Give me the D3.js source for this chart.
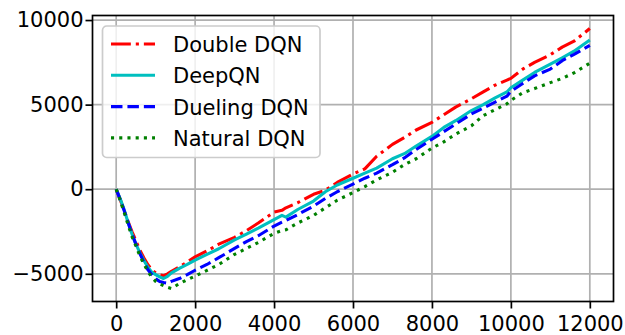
<!DOCTYPE html>
<html>
<head>
<meta charset="utf-8">
<script src="https://cdn.jsdelivr.net/npm/d3@7"></script>
<style>
  body { margin: 0; background: #fff; }
  svg { display: block; font-family: 'DejaVu Sans', sans-serif; }
</style>
</head>
<body>
<svg id="chart" width="625" height="335"></svg>
<script>
// Training steps shared by every run
const steps = [0, 100, 200, 300, 400, 500, 600, 700, 800, 900, 1000, 1100, 1200, 1300, 1400, 1600, 1800, 2000,
  2300, 2600, 3000, 3300, 3600, 4000, 4200, 4300, 4600, 5000, 5300, 5600, 6000, 6300, 6600, 7000, 7300, 7600,
  8000, 8300, 8600, 9000, 9300, 9600, 9900, 10000, 10300, 10600, 11000, 11300, 11600, 12000];

const doubleDQN = [0, -600, -1250, -1900, -2500, -3050, -3600, -4050, -4450, -4750, -4950, -5050, -5120, -5000, -4850, -4600, -4300, -4000,
  -3650, -3250, -2850, -2450, -2000, -1350, -1250, -1100, -800, -300, -60, 400, 900, 1200, 1950, 2650, 3050, 3500,
  3950, 4400, 4850, 5350, 5750, 6150, 6450, 6550, 7100, 7500, 7950, 8400, 8750, 9500];

const deepQN = [0, -550, -1200, -1950, -2650, -3250, -3750, -4200, -4600, -4900, -5050, -5180, -5280, -5150, -4950, -4680, -4450, -4190,
  -3850, -3520, -3000, -2650, -2300, -1800, -1550, -1650, -1200, -700, -150, 250, 650, 950, 1250, 1800, 2100, 2550,
  3120, 3650, 4050, 4650, 5000, 5400, 5750, 6000, 6450, 6900, 7400, 7770, 8160, 8820];

const duelingDQN = [0, -600, -1250, -1950, -2650, -3250, -3800, -4300, -4750, -5050, -5300, -5450, -5520, -5560, -5450, -5280, -5050, -4790,
  -4450, -4050, -3500, -3100, -2750, -2180, -1950, -1850, -1500, -1000, -550, -150, 300, 650, 950, 1450, 1850, 2350,
  2950, 3400, 3850, 4450, 4800, 5150, 5500, 5790, 6250, 6700, 7100, 7600, 7970, 8500];

const naturalDQN = [0, -650, -1350, -2100, -2800, -3350, -3950, -4400, -4850, -5200, -5450, -5600, -5700, -5800, -5870, -5580, -5350, -5140,
  -4800, -4450, -3850, -3500, -3150, -2610, -2450, -2400, -2000, -1550, -1100, -650, -200, 150, 550, 1000, 1450, 1800,
  2430, 2800, 3250, 3750, 4350, 4700, 5050, 5250, 5700, 5950, 6300, 6550, 6880, 7450];

const seriesNames = ['Double DQN', 'DeepQN', 'Dueling DQN', 'Natural DQN'];
const xTicks = [0, 2000, 4000, 6000, 8000, 10000, 12000];
const yTicks = [-5000, 0, 5000, 10000];

const lw = 3.1;
const series = [
  { name: seriesNames[0], values: doubleDQN, color: '#ff0000', dash: `${6.4 * lw},${1.6 * lw},${1 * lw},${1.6 * lw}` },
  { name: seriesNames[1], values: deepQN, color: '#00bfbf', dash: null },
  { name: seriesNames[2], values: duelingDQN, color: '#0000ff', dash: `${3.7 * lw},${1.6 * lw}` },
  { name: seriesNames[3], values: naturalDQN, color: '#008000', dash: `${1 * lw},${1.65 * lw}` }
];

const width = 625, height = 335;
const margin = { top: 15.5, right: 11.5, bottom: 33.5, left: 92.5 };
const chartWidth = width - margin.left - margin.right;
const chartHeight = height - margin.top - margin.bottom;

const svg = d3.select('#chart');
const g = svg.append('g').attr('transform', `translate(${margin.left},${margin.top})`);

// matplotlib-style 5% margins
const allValues = series.flatMap(s => s.values);
const xMin = d3.min(steps), xMax = d3.max(steps);
const yMin = d3.min(allValues), yMax = d3.max(allValues);
const xPad = (xMax - xMin) * 0.05, yPad = (yMax - yMin) * 0.05;

const xScale = d3.scaleLinear().domain([xMin - xPad, xMax + xPad]).range([0, chartWidth]);
const yScale = d3.scaleLinear().domain([yMin - yPad, yMax + yPad]).range([chartHeight, 0]);

// Grid
const grid = g.append('g').attr('class', 'grid');
grid.selectAll('line.gx').data(xTicks).join('line')
  .attr('x1', d => xScale(d)).attr('x2', d => xScale(d))
  .attr('y1', 0).attr('y2', chartHeight)
  .attr('stroke', '#b0b0b0').attr('stroke-width', 1.7);
grid.selectAll('line.gy').data(yTicks).join('line')
  .attr('x1', 0).attr('x2', chartWidth)
  .attr('y1', d => yScale(d)).attr('y2', d => yScale(d))
  .attr('stroke', '#b0b0b0').attr('stroke-width', 1.7);

// Lines
const line = d3.line().x((d, i) => xScale(steps[i])).y(d => yScale(d));
g.append('g').attr('class', 'lines')
  .selectAll('path').data(series).join('path')
  .attr('d', d => line(d.values))
  .attr('fill', 'none')
  .attr('stroke', d => d.color)
  .attr('stroke-width', lw)
  .attr('stroke-dasharray', d => d.dash)
  .attr('stroke-linejoin', 'round');

// Axes
const xAxis = d3.axisBottom(xScale).tickValues(xTicks).tickFormat(d3.format('d')).tickSize(7).tickPadding(8).tickSizeOuter(0);
const yAxis = d3.axisLeft(yScale).tickValues(yTicks).tickFormat(d => d < 0 ? '\u2212' + Math.abs(d) : d).tickSize(7).tickPadding(2).tickSizeOuter(0);

const xAxisG = g.append('g').attr('transform', `translate(0,${chartHeight})`).call(xAxis);
const yAxisG = g.append('g').call(yAxis);
[xAxisG, yAxisG].forEach(ax => {
  ax.select('.domain').remove();
  ax.selectAll('line').attr('stroke', '#000').attr('stroke-width', 1.7);
  ax.selectAll('text').attr('fill', '#000').attr('font-size', '21px').attr('font-family', "'DejaVu Sans', sans-serif");
});

// Frame (spines)
g.append('rect')
  .attr('x', 0).attr('y', 0).attr('width', chartWidth).attr('height', chartHeight)
  .attr('fill', 'none').attr('stroke', '#000').attr('stroke-width', 1.7);

// Legend
const legend = g.append('g').attr('transform', `translate(${102.5 - margin.left},${26 - margin.top})`);
legend.append('rect')
  .attr('x', 0).attr('y', 0).attr('width', 217.5).attr('height', 131.5)
  .attr('rx', 4.2).attr('ry', 4.2)
  .attr('fill', '#fff').attr('fill-opacity', 0.8)
  .attr('stroke', '#cccccc').attr('stroke-width', 1.7);

const rows = legend.selectAll('g.row').data(series).join('g')
  .attr('class', 'row')
  .attr('transform', (d, i) => `translate(0,${18 + i * 31.3})`);
rows.append('line')
  .attr('x1', 8.5).attr('x2', 52.5).attr('y1', 0).attr('y2', 0)
  .attr('stroke', d => d.color).attr('stroke-width', lw)
  .attr('stroke-dasharray', d => d.dash);
rows.append('text')
  .attr('x', 70.5).attr('y', 8)
  .attr('font-size', '21px')
  .attr('fill', '#000')
  .text(d => d.name);
</script>
</body>
</html>
